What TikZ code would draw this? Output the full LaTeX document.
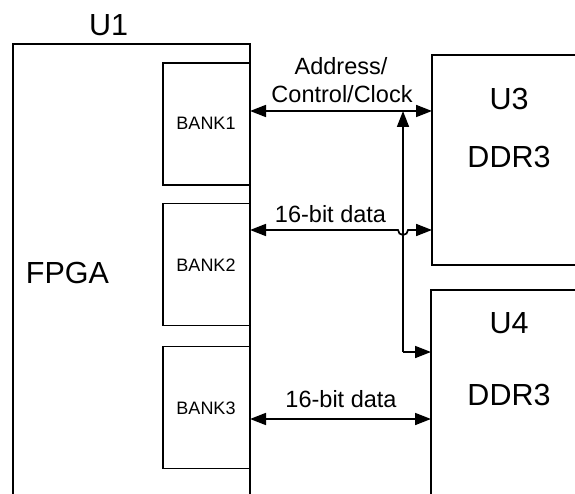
\documentclass[tikz,border=0pt]{standalone}
\usepackage{fontspec}
\setmainfont{Liberation Sans}
\usetikzlibrary{arrows.meta}
\begin{document}
\begin{tikzpicture}[x=1pt,y=-1pt,
  wire/.style={line width=1.7pt},
  conn/.style={wire,{Triangle[length=16pt,width=12pt]}-{Triangle[length=16pt,width=12pt]}},
  oneway/.style={wire,-{Triangle[length=16pt,width=12pt]}},
  bank/.style={draw,line width=1.7pt,minimum width=87pt,minimum height=122pt,inner sep=0pt},
  big/.style={font=\fontsize{30.5}{32}\selectfont,anchor=base,inner sep=0pt},
  mid/.style={font=\fontsize{23.5}{25}\selectfont,anchor=base,inner sep=0pt},
  small/.style={font=\fontsize{18}{20}\selectfont,anchor=base,inner sep=0pt}]
\useasboundingbox (0,0) rectangle (575,494);
\fill[white] (0,0) rectangle (575,494);
% U1 outline (open at bottom)
\draw[wire] (13,494) -- (13,44) -- (250,44) -- (250,494);
\node[big] (u1) at (108.5,36) {U1};
\node[big] (fpga) at (67.5,283) {FPGA};
% banks
\node[bank] (b1) at (206.5,124) {};
\node[bank] (b2) at (206.5,264.5) {};
\node[bank] (b3) at (206.5,407.5) {};
\node[small] (b1t) at (206,130) {BANK1};
\node[small] (b2t) at (206,271) {BANK2};
\node[small] (b3t) at (206,414) {BANK3};
% U3 (open at right)
\draw[wire] (575,55) -- (432,55) -- (432,265) -- (575,265);
\node[big] (u3) at (509,110) {U3};
\node[big] (d3) at (509,168) {DDR3};
% U4 (open at right and bottom)
\draw[wire] (575,290) -- (431,290) -- (431,494);
\node[big] (u4) at (509,333) {U4};
\node[big] (d4) at (509,405) {DDR3};
% connector end points
\coordinate (a1) at (250,111);
\coordinate (a3) at (432,111);
\coordinate (j) at (403,111);
\coordinate (d2l) at (250,230);
\coordinate (d2r) at (432,230);
\coordinate (k) at (403,352);
\coordinate (a4) at (431,352);
\coordinate (d3l) at (250,419);
\coordinate (d3r) at (431,419);
% address / control / clock
\draw[conn] (a1) -- (a3);
\node[mid] (lab1) at (341,75) {Address/};
\node[mid] (lab2) at (342,103) {Control/Clock};
\draw[oneway] (k) -- (j);
\draw[oneway] (k) -- (a4);
% 16-bit data bank2 with jump over vertical line
\draw[conn] (d2l) -- (398,230) arc[start angle=180,end angle=0,radius=5] -- (d2r);
\node[mid] (lab3) at (330.5,223) {16-bit data};
% 16-bit data bank3
\draw[conn] (d3l) -- (d3r);
\node[mid] (lab4) at (341,407) {16-bit data};
\end{tikzpicture}
\end{document}
